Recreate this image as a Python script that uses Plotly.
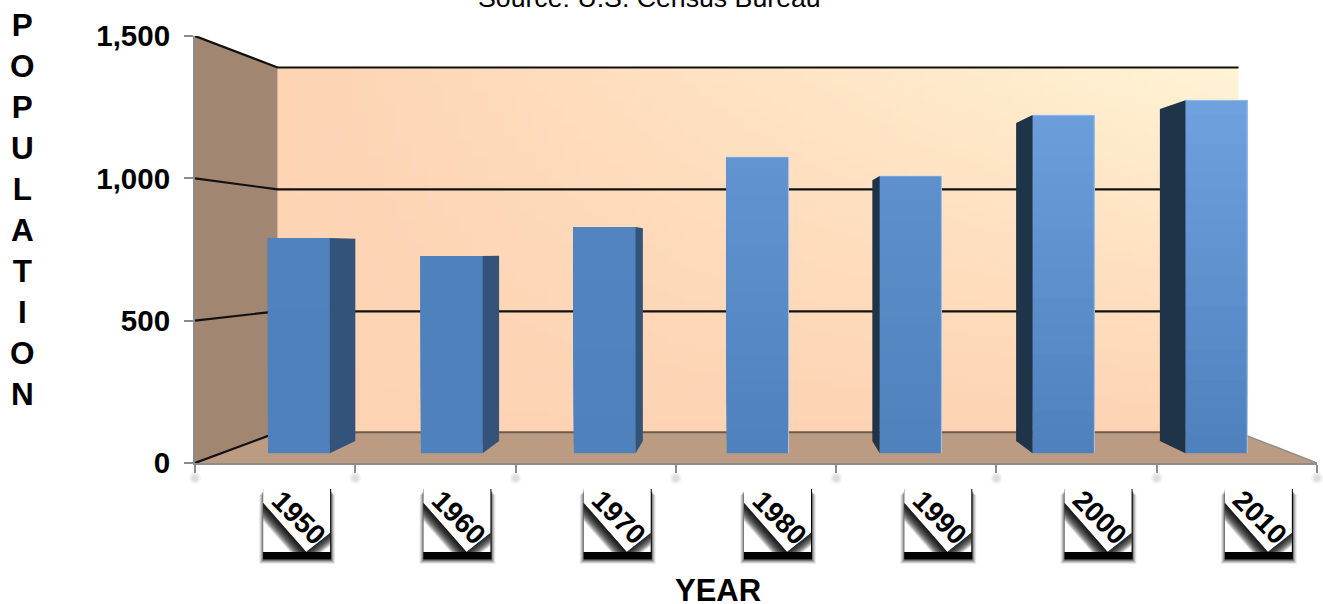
import plotly.graph_objects as go

# ---- data ----
years = [1950, 1960, 1970, 1980, 1990, 2000, 2010]
population = [792, 726, 833, 1091, 1021, 1245, 1300]
y_ticks = [0, 500, 1000, 1500]
x_edges = [1945, 1955, 1965, 1975, 1985, 1995, 2005, 2015]

# ---- pseudo-3D projection (perspective towards a vanishing point) ----
VP_X, VP_Y = 1980, 750
S_BAR_FRONT, S_BAR_BACK, S_WALL = 0.954, 0.897, 0.8565
BAR_HALF = 2.02
BAR_SHIFT, WALL_SHIFT = 0.1, 0.125
GRID_SHIFT = -3
N_BANDS = 24
N_WALL = 64


def px(x, s):
    shift = BAR_SHIFT if s in (S_BAR_FRONT, S_BAR_BACK) else (WALL_SHIFT if s == S_WALL else 0)
    return VP_X + (x - VP_X) * s + shift


def py(y, s):
    return VP_Y + (y - VP_Y) * s


def lerp(a, b, t):
    return tuple(a[i] + (b[i] - a[i]) * t for i in range(3))


def rgb(c):
    return "rgb(%d,%d,%d)" % tuple(round(v) for v in c)


XMIN, XMAX, YMAX = x_edges[0], x_edges[-1], y_ticks[-1]
fig = go.Figure()

# back wall with corner gradient (decorative background shading)
wl, wr, wb, wt = px(XMIN, S_WALL), px(XMAX, S_WALL), py(0, S_WALL), py(YMAX, S_WALL)
fig.add_trace(go.Heatmap(
    x=[wl + (wr - wl) * i / N_WALL for i in range(N_WALL + 1)],
    y=[wb + (wt - wb) * j / N_WALL for j in range(N_WALL + 1)],
    z=[[(i + 0.5) * (j + 0.5) / N_WALL ** 2 for i in range(N_WALL)] for j in range(N_WALL)],
    zmin=0, zmax=1, showscale=False,
    colorscale=[[0, "#fdd3b3"], [1, "#fff4d6"]], hoverinfo="skip"))

# left wall and floor
fig.add_trace(go.Scatter(
    x=[px(XMIN, 1), px(XMIN, 1), wl, wl, px(XMIN, 1)],
    y=[py(0, 1), py(YMAX, 1), wt, wb, py(0, 1)],
    mode="lines", fill="toself", fillcolor="#a18672", line=dict(width=0), hoverinfo="skip"))
fig.add_trace(go.Scatter(
    x=[px(XMIN, 1), px(XMAX, 1), wr, wl, px(XMIN, 1)],
    y=[py(0, 1), py(0, 1), wb, wb, py(0, 1)],
    mode="lines", fill="toself", fillcolor="#bb9c83", line=dict(width=0), hoverinfo="skip"))

# gridlines on walls
gx, gy = [], []
for v in y_ticks:
    back = py(v, S_WALL) + (GRID_SHIFT if v > 0 else 0)
    gx += [px(XMIN, 1), wl]
    gy += [py(v, 1), back]
    if v > 0:
        gx += [wr]
        gy += [back]
    gx.append(None)
    gy.append(None)
fig.add_trace(go.Scatter(x=gx, y=gy, mode="lines", line=dict(color="#111111", width=2.2), hoverinfo="skip"))
fig.add_trace(go.Scatter(
    x=[wl, wr], y=[wb, wb],
    mode="lines", line=dict(color="#6b5a4c", width=2), hoverinfo="skip"))
fig.add_trace(go.Scatter(
    x=[wr, px(XMAX, 1)], y=[wb, py(0, 1)],
    mode="lines", line=dict(color="#8d8d8d", width=1.5), hoverinfo="skip"))

# ---- bars ----
BOTTOM = (79, 129, 189)
TOP = (112, 162, 224)
bar_w = 2 * BAR_HALF * S_BAR_FRONT
fig.add_trace(go.Bar(
    x=[px(y, S_BAR_FRONT) for y in years],
    base=[py(0, S_BAR_FRONT)] * len(years),
    y=[py(v, S_BAR_FRONT) - py(0, S_BAR_FRONT) for v in population],
    width=bar_w, marker=dict(color=rgb(BOTTOM), line=dict(width=0)),
    name="Population", xaxis="x2", yaxis="y2"))

bx, bb, bh, bc = [], [], [], []
for yr, v in zip(years, population):
    t_top = min(1, max(0, (v - 780) / 520))
    for k in range(1, N_BANDS):
        level = v * k / N_BANDS
        bx.append(px(yr, S_BAR_FRONT))
        bb.append(py(level, S_BAR_FRONT))
        bh.append(py(v, S_BAR_FRONT) - py(level, S_BAR_FRONT))
        bc.append(rgb(lerp(BOTTOM, TOP, t_top * k / N_BANDS)))
fig.add_trace(go.Bar(x=bx, base=bb, y=bh, width=bar_w,
                     marker=dict(color=bc, line=dict(width=0)),
                     hoverinfo="skip", showlegend=False, xaxis="x2", yaxis="y2"))

# side faces + edge highlights
for yr, v in zip(years, population):
    has_right = False
    for edge, color in ((yr + BAR_HALF, "#33537a"), (yr - BAR_HALF, "#1f3349")):
        front, back = px(edge, S_BAR_FRONT), px(edge, S_BAR_BACK)
        right = edge > yr
        if (right and back > front) or (not right and back < front):
            has_right = has_right or right
            fig.add_trace(go.Scatter(
                x=[front, back, back, front, front],
                y=[py(0, S_BAR_FRONT), py(0, S_BAR_BACK), py(v, S_BAR_BACK), py(v, S_BAR_FRONT), py(0, S_BAR_FRONT)],
                mode="lines", fill="toself", fillcolor=color, line=dict(width=0),
                hoverinfo="skip", xaxis="x2", yaxis="y2"))
    if v > 1000:
        xl, xr = px(yr - BAR_HALF, S_BAR_FRONT), px(yr + BAR_HALF, S_BAR_FRONT)
        top, base = py(v, S_BAR_FRONT), py(0, S_BAR_FRONT)
        hx = [xl, xr] if has_right else [xl, xr, xr]
        hy = [top, top] if has_right else [top, top, base]
        fig.add_trace(go.Scatter(x=hx, y=hy, mode="lines",
                                 line=dict(color="rgba(190,215,245,0.75)", width=1),
                                 hoverinfo="skip", xaxis="x2", yaxis="y2"))

# ---- layout helpers: label boxes with hard shadow (pixel offsets from tick) ----
shapes = []


def poly(points, opacity, color, year):
    path = "M " + " L ".join("%g,%g" % p for p in points) + " Z"
    shapes.append(dict(type="path", path=path, xref="x", yref="paper", xsizemode="pixel",
                       ysizemode="pixel", xanchor=year, yanchor=0, fillcolor=color,
                       opacity=opacity, line=dict(width=0), layer="above"))


def rect(x0, y0, x1, y1):
    return [(x0, y0), (x1, y0), (x1, y1), (x0, y1)]


# blurred dots under the x ticks
for edge in x_edges:
    for r, op in ((6, 0.1), (4.5, 0.12), (3, 0.15)):
        shapes.append(dict(type="circle", xref="paper", yref="paper", xsizemode="pixel", ysizemode="pixel",
                           xanchor=(edge - XMIN) / (XMAX - XMIN), yanchor=0, x0=-r, x1=r, y0=-15 - r, y1=-15 + r,
                           fillcolor="#999999", opacity=op, line=dict(width=0), layer="above"))

L, R, T, B = -12, 55, -24, -89
TIP = 31
for yr in years:
    anchor = yr
    for e, op in ((5, 0.08), (4, 0.12), (3, 0.18), (2, 0.28), (1, 0.45)):
        poly(rect(L - e + 1, T - 3 - e, R + e, B - 7 - e), op, "#000000", anchor)
    poly(rect(L, T - 2, R + 1, B - 7), 1, "#000000", anchor)
    poly(rect(L, T, R, B), 1, "#ffffff", anchor)
    for k in range(1, 19):
        poly([(L, -40), (L, -40 - k), (TIP - k * 43 / 49, B), (TIP, B)], 0.11, "#000000", anchor)
    for k in range(1, 17):
        poly([(TIP, B), (TIP + k, B), (R, -70 - k * 19 / 24), (R, -70)], 0.1, "#000000", anchor)

annotations = [dict(x=yr, xref="x", y=0, yref="paper", xshift=23.5, yshift=-54,
                    xanchor="center", yanchor="middle",
                    text=str(yr), textangle=45, showarrow=False,
                    font=dict(family="Liberation Sans", size=28, color="black", weight=700))
               for yr in years]
annotations.append(dict(x=(718 - 195) / 1122, xref="paper", y=0, yref="paper", yshift=-127,
                        xanchor="center", yanchor="middle", showarrow=False, text="YEAR",
                        font=dict(family="Liberation Sans", size=31, color="black", weight=700)))
annotations.append(dict(x=(22 - 195) / 1122, xref="paper", y=(463 - 209) / 427, yref="paper", showarrow=False,
                        text="<br>".join("POPULATION"), xanchor="center", yanchor="middle", align="center",
                        font=dict(family="Liberation Sans", size=31.5, color="black", weight=700)))
annotations.append(dict(x=(649 - 195) / 1122, xref="paper", y=1, yref="paper", yshift=38,
                        xanchor="center", yanchor="middle", showarrow=False, text="Source: U.S. Census Bureau",
                        font=dict(family="Liberation Sans", size=26.7, color="black")))

fig.update_layout(
    width=1323, height=604, margin=dict(l=195, r=6, t=36, b=141),
    paper_bgcolor="white", plot_bgcolor="white", showlegend=False, barmode="overlay",
    xaxis=dict(range=[XMIN, XMAX], tickmode="array", tickvals=x_edges, showticklabels=False,
               ticks="outside", ticklen=8, tickwidth=2, tickcolor="#8c8c8c", showline=True,
               linecolor="#8c8c8c", linewidth=2, showgrid=False, zeroline=False),
    yaxis=dict(range=[0, YMAX], tickmode="array", tickvals=y_ticks, tickformat=",", ticks="outside",
               ticklen=9, tickwidth=2, tickcolor="#8c8c8c", showline=True, linecolor="#8c8c8c",
               linewidth=2, showgrid=False, zeroline=False, ticklabelstandoff=8,
               tickfont=dict(family="Liberation Sans", size=29.5, color="black", weight=700)),
    xaxis2=dict(range=[XMIN, XMAX], overlaying="x", visible=False),
    yaxis2=dict(range=[0, YMAX], overlaying="y", visible=False),
    shapes=shapes, annotations=annotations)

fig.write_html("out.html", config=dict(displayModeBar=False),
               post_script="document.body.style.margin='0';document.body.style.overflow='hidden';")
